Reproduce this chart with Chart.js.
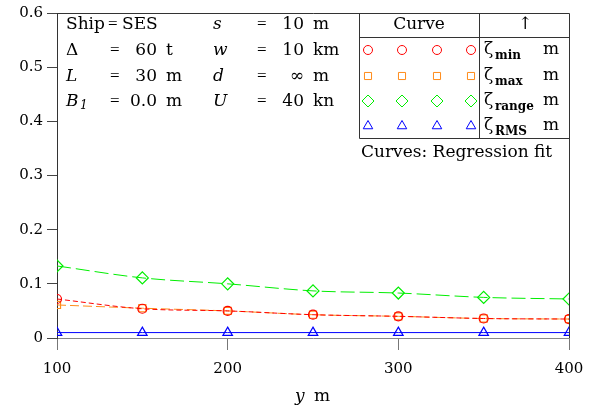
<!DOCTYPE html>
<html>
<head>
<meta charset="utf-8">
<script src="https://cdn.jsdelivr.net/npm/chart.js@4"></script>
<style>
  html, body { margin: 0; padding: 0; background: #fff; }
  #wrap { width: 596px; height: 412px; }
</style>
</head>
<body>
<div id="wrap"><canvas id="grafica" width="596" height="412"></canvas></div>
<script>
// valores
const posY = [100, 150, 200, 250, 300, 350, 400];
const zetaMin = [0.072, 0.054, 0.050, 0.043, 0.040, 0.036, 0.035];
const zetaMax = [0.061, 0.055, 0.050, 0.043, 0.040, 0.036, 0.035];
const zetaRange = [0.133, 0.111, 0.100, 0.087, 0.083, 0.075, 0.072];
const zetaRMS = [0.010, 0.010, 0.010, 0.010, 0.010, 0.010, 0.010];
const xTicks = [100, 200, 300, 400];
const yTicks = [0, 0.1, 0.2, 0.3, 0.4, 0.5, 0.6];

const serif = "'DejaVu Serif', serif";
const igual = "17px 'Liberation Serif', serif";

const series = [
    { nombre: 'min', datos: zetaMin, color: '#ff0000', estilo: 'circle', radio: 4.5, dash: [5, 3] },
    { nombre: 'max', datos: zetaMax, color: '#ff8c1a', estilo: 'rect', radio: 5, dash: [9, 4] },
    { nombre: 'range', datos: zetaRange, color: '#00ee00', estilo: 'rectRot', radio: 6, dash: [14, 5] },
    { nombre: 'RMS', datos: zetaRMS, color: '#0000ff', estilo: 'triangle', radio: 5.5, dash: [] }
];

function txt(ctx, s, x, y, font, align) {
    ctx.font = font;
    ctx.textAlign = align || 'left';
    ctx.fillText(s, x, y);
}

const marco = {
    id: 'marco',
    afterDraw(chart) {
        const ctx = chart.ctx;
        const a = chart.chartArea;
        ctx.save();
        ctx.strokeStyle = '#333';
        ctx.lineWidth = 1;
        ctx.beginPath();
        ctx.moveTo(a.left, a.top + 0.5);
        ctx.lineTo(a.right + 0.5, a.top + 0.5);
        ctx.lineTo(a.right + 0.5, a.bottom);
        ctx.stroke();

        ctx.fillStyle = '#000';
        ctx.textBaseline = 'middle';
        const f = '17px ' + serif;
        const fi = 'italic 17px ' + serif;

        // bloque de parametros
        txt(ctx, 'Ship', 66, 25, f);
        txt(ctx, '=', 108, 25, igual);
        txt(ctx, 'SES', 122, 25, f);
        const filas = [
            ['Δ', false, '60', 't', 51],
            ['L', true, '30', 'm', 77],
            ['B', true, '0.0', 'm', 102]
        ];
        filas.forEach(function (r) {
            txt(ctx, r[0], 66, r[4], r[1] ? fi : f);
            txt(ctx, '=', 110, r[4], igual);
            txt(ctx, r[2], 157, r[4], f, 'right');
            txt(ctx, r[3], 166, r[4], f);
        });
        txt(ctx, '1', 80, 106, 'italic 12px ' + serif);
        const filas2 = [
            ['s', '10', 'm', 25],
            ['w', '10', 'km', 51],
            ['d', '∞', 'm', 77],
            ['U', '40', 'kn', 102]
        ];
        filas2.forEach(function (r) {
            txt(ctx, r[0], 213, r[3], fi);
            txt(ctx, '=', 257, r[3], igual);
            txt(ctx, r[1], 304, r[3], f, 'right');
            txt(ctx, r[2], 313, r[3], f);
        });

        // tabla de leyenda
        ctx.strokeStyle = '#333';
        ctx.beginPath();
        ctx.moveTo(359.5, a.top);
        ctx.lineTo(359.5, 138.5);
        ctx.lineTo(a.right, 138.5);
        ctx.moveTo(359.5, 37.5);
        ctx.lineTo(a.right, 37.5);
        ctx.moveTo(479.5, a.top);
        ctx.lineTo(479.5, 138.5);
        ctx.stroke();
        txt(ctx, 'Curve', 419, 25, f, 'center');
        txt(ctx, '↑', 525, 25, f, 'center');
        const filasY = [50, 76, 101, 126];
        const colX = [368, 402, 437, 471];
        series.forEach(function (s, i) {
            ctx.strokeStyle = s.color;
            ctx.fillStyle = 'rgba(0,0,0,0)';
            ctx.setLineDash([]);
            colX.forEach(function (x) {
                Chart.helpers.drawPoint(ctx, { pointStyle: s.estilo, radius: s.radio, borderWidth: 1, rotation: 0 }, x, filasY[i]);
            });
            ctx.fillStyle = '#000';
            txt(ctx, 'ζ', 484, filasY[i], f);
            txt(ctx, s.nombre, 495, filasY[i] + 6, 'bold 12px ' + serif);
            txt(ctx, 'm', 543, filasY[i], f);
        });
        txt(ctx, 'Curves: Regression fit', 361, 153, f);

        // titulo eje x
        txt(ctx, 'y', 295, 397, fi);
        txt(ctx, 'm', 314, 397, f);
        ctx.restore();
    }
};

const ctx = document.getElementById('grafica').getContext('2d');

const data = {
    labels: posY,
    datasets: series.map(function (s) {
        return {
            label: s.nombre,
            data: posY.map(function (x, i) { return { x: x, y: s.datos[i] }; }),
            borderColor: s.color,
            backgroundColor: 'rgba(0,0,0,0)',
            borderWidth: 1,
            borderDash: s.dash,
            cubicInterpolationMode: 'monotone',
            pointStyle: s.estilo,
            pointRadius: s.radio,
            pointBorderColor: s.color,
            pointBackgroundColor: 'rgba(0,0,0,0)',
            pointBorderWidth: 1.2
        };
    })
};

const config = {
    type: 'line',
    data: data,
    options: {
        responsive: false,
        animation: false,
        layout: { padding: { left: 0, top: 12, right: 27, bottom: 0 } },
        plugins: {
            legend: { display: false },
            tooltip: { enabled: false }
        },
        scales: {
            x: {
                type: 'linear',
                min: 100,
                max: 400,
                afterFit: function (scale) { scale.height = 74; },
                afterBuildTicks: function (scale) { scale.ticks = xTicks.map(function (v) { return { value: v }; }); },
                grid: { drawOnChartArea: false, tickLength: 12, color: '#777' },
                border: { color: '#888' },
                ticks: { color: '#000', font: { family: serif, size: 15 }, padding: 10, maxRotation: 0 }
            },
            y: {
                min: 0,
                max: 0.6,
                afterFit: function (scale) { scale.width = 57; },
                afterBuildTicks: function (scale) { scale.ticks = yTicks.map(function (v) { return { value: v }; }); },
                grid: { drawOnChartArea: false, tickLength: 10, color: '#444' },
                border: { color: '#333' },
                ticks: {
                    color: '#000', font: { family: serif, size: 15 }, padding: 4,
                    callback: function (v) { return v === 0 ? '0' : v.toFixed(1); }
                }
            }
        }
    },
    plugins: [marco]
};

const chart = new Chart(ctx, config);
</script>
</body>
</html>
